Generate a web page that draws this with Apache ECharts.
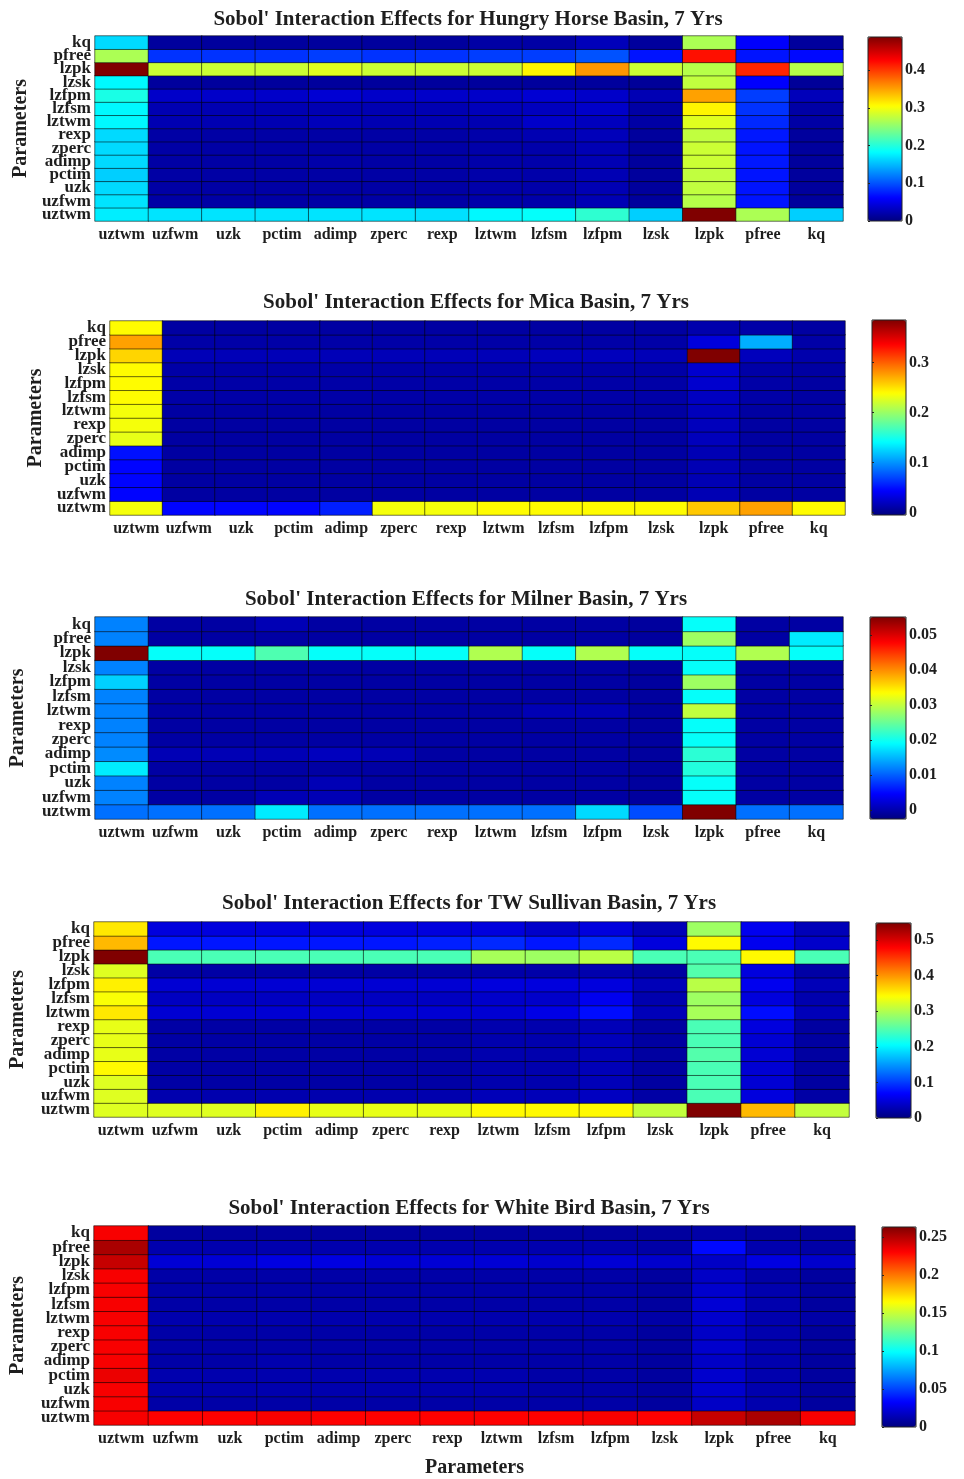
<!DOCTYPE html>
<html>
<head>
<meta charset="utf-8">
<script src="https://cdn.jsdelivr.net/npm/echarts@6/dist/echarts.min.js"></script>
<style>html,body{margin:0;padding:0;background:#fff}#c{width:964px;height:1479px}</style>
</head>
<body>
<div id="c"></div>
<script>
// ---------------- DATA ----------------
const params = ['uztwm','uzfwm','uzk','pctim','adimp','zperc','rexp','lztwm','lzfsm','lzfpm','lzsk','lzpk','pfree','kq'];

const titles = [
  "Sobol' Interaction Effects for Hungry Horse Basin, 7 Yrs",
  "Sobol' Interaction Effects for Mica Basin, 7 Yrs",
  "Sobol' Interaction Effects for Milner Basin, 7 Yrs",
  "Sobol' Interaction Effects for TW Sullivan Basin, 7 Yrs",
  "Sobol' Interaction Effects for White Bird Basin, 7 Yrs"
];

// each matrix: one row per y parameter (order of params, uztwm first), values across x parameters
const hungryHorse = [
  [0.175,0.170,0.170,0.170,0.170,0.170,0.168,0.180,0.185,0.205,0.160,0.488,0.265,0.160], // uztwm
  [0.170,0.018,0.018,0.018,0.018,0.018,0.018,0.020,0.020,0.025,0.014,0.270,0.070,0.014], // uzfwm
  [0.165,0.018,0.018,0.018,0.018,0.018,0.018,0.020,0.020,0.025,0.014,0.275,0.070,0.014], // uzk
  [0.160,0.018,0.018,0.018,0.018,0.018,0.018,0.020,0.020,0.025,0.014,0.275,0.070,0.014], // pctim
  [0.165,0.018,0.018,0.018,0.020,0.018,0.018,0.020,0.020,0.025,0.014,0.280,0.072,0.014], // adimp
  [0.165,0.018,0.018,0.018,0.018,0.018,0.018,0.020,0.020,0.025,0.014,0.280,0.070,0.014], // zperc
  [0.165,0.018,0.018,0.018,0.018,0.018,0.018,0.020,0.024,0.028,0.014,0.275,0.072,0.014], // rexp
  [0.180,0.024,0.024,0.024,0.028,0.024,0.024,0.024,0.035,0.030,0.018,0.290,0.080,0.018], // lztwm
  [0.180,0.024,0.024,0.024,0.024,0.024,0.024,0.028,0.030,0.035,0.018,0.310,0.085,0.018], // lzfsm
  [0.195,0.035,0.035,0.035,0.040,0.035,0.035,0.035,0.040,0.035,0.025,0.350,0.090,0.028], // lzfpm
  [0.180,0.014,0.014,0.014,0.014,0.014,0.014,0.014,0.014,0.014,0.012,0.275,0.060,0.012], // lzsk
  [0.488,0.280,0.280,0.280,0.290,0.280,0.280,0.280,0.310,0.355,0.280,0.270,0.410,0.270], // lzpk
  [0.265,0.085,0.085,0.085,0.090,0.085,0.085,0.090,0.090,0.100,0.070,0.420,0.070,0.065], // pfree
  [0.165,0.014,0.014,0.014,0.014,0.014,0.014,0.018,0.018,0.028,0.014,0.265,0.060,0.014]  // kq
];

const mica = [
  [0.235,0.045,0.045,0.045,0.055,0.235,0.235,0.240,0.240,0.240,0.240,0.260,0.275,0.240], // uztwm
  [0.045,0.008,0.008,0.008,0.008,0.008,0.008,0.008,0.008,0.008,0.008,0.015,0.008,0.008], // uzfwm
  [0.045,0.008,0.008,0.008,0.008,0.008,0.008,0.008,0.008,0.008,0.008,0.015,0.008,0.008], // uzk
  [0.045,0.008,0.008,0.008,0.008,0.008,0.008,0.008,0.008,0.008,0.008,0.015,0.008,0.008], // pctim
  [0.050,0.008,0.008,0.008,0.008,0.008,0.008,0.008,0.008,0.008,0.008,0.015,0.008,0.008], // adimp
  [0.230,0.008,0.008,0.008,0.008,0.008,0.008,0.008,0.008,0.008,0.008,0.018,0.008,0.008], // zperc
  [0.235,0.008,0.008,0.008,0.008,0.008,0.008,0.008,0.008,0.008,0.008,0.018,0.008,0.008], // rexp
  [0.235,0.008,0.008,0.008,0.008,0.008,0.008,0.008,0.008,0.008,0.008,0.018,0.008,0.008], // lztwm
  [0.240,0.010,0.010,0.010,0.010,0.010,0.010,0.010,0.010,0.010,0.010,0.020,0.010,0.008], // lzfsm
  [0.240,0.010,0.010,0.010,0.010,0.010,0.010,0.010,0.010,0.010,0.010,0.025,0.010,0.008], // lzfpm
  [0.240,0.010,0.010,0.010,0.010,0.010,0.010,0.010,0.010,0.010,0.010,0.025,0.010,0.008], // lzsk
  [0.255,0.016,0.016,0.016,0.016,0.016,0.016,0.016,0.018,0.018,0.016,0.385,0.018,0.012], // lzpk
  [0.275,0.010,0.010,0.010,0.010,0.010,0.010,0.010,0.010,0.010,0.010,0.030,0.110,0.010], // pfree
  [0.240,0.008,0.008,0.008,0.008,0.008,0.008,0.008,0.008,0.008,0.008,0.012,0.010,0.008]  // kq
];

const milner = [
  [0.0110,0.0110,0.0110,0.0180,0.0110,0.0110,0.0110,0.0110,0.0110,0.0170,0.0090,0.0551,0.0110,0.0110], // uztwm
  [0.0120,-0.0005,-0.0005,0.0005,0.0005,-0.0005,-0.0005,-0.0005,-0.0005,-0.0005,-0.0008,0.0194,-0.0005,-0.0005], // uzfwm
  [0.0120,-0.0005,-0.0005,-0.0005,0.0005,-0.0005,-0.0005,-0.0005,-0.0005,-0.0005,-0.0008,0.0194,-0.0005,-0.0005], // uzk
  [0.0180,-0.0005,-0.0005,-0.0005,-0.0005,-0.0005,-0.0005,-0.0005,-0.0005,-0.0005,-0.0008,0.0210,-0.0005,-0.0005], // pctim
  [0.0125,0.0005,0.0005,0.0005,0.0010,0.0005,-0.0005,-0.0005,-0.0005,-0.0005,-0.0008,0.0215,-0.0005,-0.0005], // adimp
  [0.0120,-0.0005,-0.0005,-0.0005,-0.0005,-0.0005,-0.0005,-0.0005,-0.0005,-0.0005,-0.0008,0.0194,-0.0005,-0.0005], // zperc
  [0.0120,-0.0005,-0.0005,-0.0005,-0.0005,-0.0005,-0.0005,-0.0005,-0.0005,-0.0005,-0.0008,0.0194,-0.0005,-0.0005], // rexp
  [0.0120,-0.0005,-0.0005,-0.0005,-0.0005,-0.0005,-0.0005,-0.0005,0.0005,0.0005,-0.0008,0.0300,-0.0005,-0.0005], // lztwm
  [0.0120,-0.0005,-0.0005,-0.0005,-0.0005,-0.0005,-0.0005,-0.0005,-0.0005,-0.0005,-0.0008,0.0194,-0.0005,-0.0005], // lzfsm
  [0.0165,-0.0005,-0.0005,-0.0005,-0.0005,-0.0005,-0.0005,-0.0005,-0.0005,-0.0005,-0.0008,0.0280,-0.0005,-0.0005], // lzfpm
  [0.0120,-0.0005,-0.0005,-0.0005,-0.0005,-0.0005,-0.0005,-0.0005,-0.0005,-0.0005,-0.0008,0.0194,-0.0005,-0.0005], // lzsk
  [0.0551,0.0194,0.0194,0.0235,0.0194,0.0194,0.0194,0.0290,0.0194,0.0290,0.0194,0.0194,0.0290,0.0194], // lzpk
  [0.0120,-0.0005,-0.0005,-0.0005,-0.0005,-0.0005,-0.0005,-0.0005,-0.0005,-0.0005,-0.0008,0.0280,-0.0005,0.0180], // pfree
  [0.0120,-0.0005,-0.0005,0.0005,-0.0005,-0.0005,-0.0005,-0.0005,-0.0005,-0.0005,-0.0008,0.0194,-0.0005,-0.0005]  // kq
];

const twSullivan = [
  [0.325,0.325,0.325,0.350,0.330,0.330,0.330,0.345,0.345,0.345,0.310,0.548,0.380,0.310], // uztwm
  [0.325,0.025,0.025,0.025,0.025,0.025,0.025,0.030,0.030,0.035,0.020,0.245,0.050,0.020], // uzfwm
  [0.325,0.020,0.020,0.020,0.020,0.020,0.020,0.025,0.025,0.030,0.018,0.245,0.045,0.018], // uzk
  [0.345,0.020,0.020,0.020,0.020,0.020,0.020,0.025,0.025,0.030,0.018,0.245,0.045,0.018], // pctim
  [0.330,0.020,0.020,0.020,0.020,0.020,0.020,0.025,0.025,0.030,0.018,0.250,0.045,0.018], // adimp
  [0.330,0.020,0.020,0.020,0.020,0.020,0.020,0.025,0.025,0.032,0.018,0.245,0.045,0.018], // zperc
  [0.330,0.020,0.020,0.020,0.020,0.020,0.020,0.025,0.025,0.030,0.018,0.245,0.050,0.018], // rexp
  [0.355,0.045,0.045,0.045,0.045,0.045,0.045,0.045,0.055,0.075,0.030,0.295,0.075,0.030], // lztwm
  [0.340,0.035,0.035,0.035,0.035,0.035,0.035,0.040,0.040,0.060,0.025,0.290,0.050,0.025], // lzfsm
  [0.350,0.045,0.045,0.045,0.045,0.045,0.045,0.050,0.050,0.050,0.030,0.305,0.060,0.030], // lzfpm
  [0.325,0.020,0.020,0.020,0.020,0.020,0.020,0.022,0.022,0.025,0.018,0.250,0.050,0.020], // lzsk
  [0.548,0.245,0.245,0.245,0.245,0.245,0.245,0.295,0.290,0.305,0.245,0.245,0.345,0.245], // lzpk
  [0.380,0.080,0.080,0.080,0.080,0.080,0.085,0.090,0.080,0.090,0.050,0.345,0.060,0.040], // pfree
  [0.355,0.050,0.050,0.050,0.050,0.050,0.050,0.050,0.040,0.050,0.030,0.290,0.060,0.030]  // kq
];

const whiteBird = [
  [0.232,0.230,0.230,0.232,0.230,0.230,0.230,0.230,0.230,0.232,0.230,0.245,0.252,0.232], // uztwm
  [0.232,0.010,0.010,0.010,0.010,0.010,0.010,0.010,0.010,0.010,0.008,0.018,0.012,0.008], // uzfwm
  [0.232,0.012,0.012,0.012,0.012,0.012,0.012,0.012,0.010,0.010,0.008,0.020,0.012,0.008], // uzk
  [0.235,0.012,0.012,0.012,0.012,0.012,0.012,0.012,0.010,0.010,0.008,0.020,0.012,0.008], // pctim
  [0.232,0.010,0.010,0.012,0.010,0.010,0.010,0.010,0.010,0.010,0.008,0.018,0.012,0.008], // adimp
  [0.232,0.010,0.010,0.010,0.010,0.010,0.010,0.010,0.010,0.010,0.008,0.020,0.012,0.008], // zperc
  [0.232,0.010,0.010,0.010,0.010,0.010,0.010,0.010,0.010,0.010,0.008,0.018,0.012,0.008], // rexp
  [0.232,0.012,0.012,0.012,0.012,0.012,0.012,0.012,0.012,0.012,0.010,0.020,0.012,0.010], // lztwm
  [0.232,0.010,0.010,0.010,0.010,0.010,0.010,0.010,0.010,0.010,0.008,0.022,0.012,0.008], // lzfsm
  [0.232,0.010,0.010,0.010,0.010,0.010,0.010,0.010,0.010,0.010,0.008,0.020,0.012,0.008], // lzfpm
  [0.232,0.010,0.010,0.010,0.010,0.010,0.010,0.010,0.010,0.010,0.008,0.018,0.010,0.008], // lzsk
  [0.245,0.022,0.022,0.025,0.025,0.022,0.022,0.022,0.020,0.022,0.020,0.018,0.025,0.020], // lzpk
  [0.252,0.012,0.012,0.012,0.012,0.012,0.012,0.012,0.012,0.012,0.010,0.035,0.012,0.010], // pfree
  [0.232,0.008,0.008,0.008,0.008,0.008,0.008,0.008,0.008,0.008,0.008,0.010,0.008,0.008]  // kq
];

// colour bar ranges and tick labels
const colorRanges = [[0,0.488],[-0.005,0.385],[-0.0025,0.0551],[0,0.548],[0,0.263]];
const colorTicks = [
  [0,0.1,0.2,0.3,0.4],
  [0,0.1,0.2,0.3],
  [0,0.01,0.02,0.03,0.04,0.05],
  [0,0.1,0.2,0.3,0.4,0.5],
  [0,0.05,0.1,0.15,0.2,0.25]
];
const axisName = 'Parameters';

// ---------------- LAYOUT ----------------
const matrices = [hungryHorse, mica, milner, twSullivan, whiteBird];
const gridBoxes = [
  {left:95, top:36, width:748, height:185},
  {left:110, top:321, width:735, height:194},
  {left:93, top:617, width:750, height:202},
  {left:93, top:922, width:756, height:195},
  {left:88, top:1226, width:767, height:200}
];
const barBoxes = [
  {left:868, top:37, width:34, height:184},
  {left:872, top:320, width:34, height:195},
  {left:870, top:617, width:36, height:202},
  {left:876, top:923, width:35, height:195},
  {left:882, top:1227, width:34, height:200}
];
const titleCenters = [[468,17],[476,300],[466,597],[469,901],[469,1206]];
const yNameGaps = [62, 61, 67, 66, 66];

const jet = ['#000080','#0000ff','#0080ff','#00ffff','#80ff80','#ffff00','#ff8000','#ff0000','#800000'];
const FONT = 'Liberation Serif';
const TXT = '#1e1e1e';

const option = {
  backgroundColor:'#fff',
  animation:false,
  title:[], grid:[], xAxis:[], yAxis:[], series:[], visualMap:[]
};

// heatmap panels: grid / axis indices 0..4
matrices.forEach((m, i) => {
  const data = [];
  m.forEach((row, yi) => row.forEach((v, xi) => data.push([xi, yi, v])));
  const g = gridBoxes[i];
  option.title.push({
    text: titles[i], left: titleCenters[i][0], top: titleCenters[i][1] - 8,
    textAlign:'center', padding:0,
    textStyle:{fontFamily:FONT, fontWeight:'bold', fontSize:21, color:TXT}
  });
  option.grid.push({left:g.left, top:g.top, width:g.width, height:g.height});
  option.xAxis.push({
    type:'category', gridIndex:i, data:params,
    name: i === 4 ? axisName : '', nameLocation:'middle', nameGap:33,
    nameTextStyle:{fontFamily:FONT, fontWeight:'bold', fontSize:20, color:TXT},
    axisLine:{show:false}, axisTick:{show:false}, splitLine:{show:false},
    axisLabel:{interval:0, margin:6, fontFamily:FONT, fontWeight:'bold', fontSize:16, color:TXT}
  });
  option.yAxis.push({
    type:'category', gridIndex:i, data:params,
    name: axisName, nameLocation:'middle', nameGap:yNameGaps[i], nameRotate:90,
    nameTextStyle:{fontFamily:FONT, fontWeight:'bold', fontSize:20, color:TXT},
    axisLine:{show:false}, axisTick:{show:false}, splitLine:{show:false},
    axisLabel:{interval:0, margin:4, fontFamily:FONT, fontWeight:'bold', fontSize:17, lineHeight:13, color:TXT}
  });
  option.series.push({
    type:'heatmap', xAxisIndex:i, yAxisIndex:i, data:data,
    itemStyle:{borderColor:'rgba(0,0,0,0.55)', borderWidth:1},
    emphasis:{disabled:true}
  });
  const b = barBoxes[i];
  option.visualMap.push({
    type:'continuous', seriesIndex:i, dimension:2,
    min:colorRanges[i][0], max:colorRanges[i][1],
    calculable:false, hoverLink:false, realtime:false,
    left:b.left, top:b.top, itemWidth:b.width, itemHeight:b.height,
    padding:0, inRange:{color:jet}, text:null
  });
});

// colour bar frames and tick axes: grid / axis indices 5..9
barBoxes.forEach((b, i) => {
  const gi = 5 + i;
  option.grid.push({left:b.left, top:b.top, width:b.width, height:b.height,
    show:true, backgroundColor:'transparent', borderColor:'#222', borderWidth:1, z:10});
  option.xAxis.push({type:'value', gridIndex:gi, show:false, min:0, max:1});
  option.yAxis.push({
    type:'value', gridIndex:gi, position:'right', z:10,
    min:colorRanges[i][0], max:colorRanges[i][1],
    axisLine:{show:false}, splitLine:{show:false},
    axisTick:{show:true, inside:false, length:2, lineStyle:{color:'#222'}, customValues:colorTicks[i]},
    axisLabel:{margin:3, fontFamily:FONT, fontWeight:'bold', fontSize:16, color:TXT,
               customValues:colorTicks[i], formatter:v => String(v)}
  });
});

const chart = echarts.init(document.getElementById('c'), null, {renderer:'canvas'});
chart.setOption(option);
</script>
</body>
</html>
